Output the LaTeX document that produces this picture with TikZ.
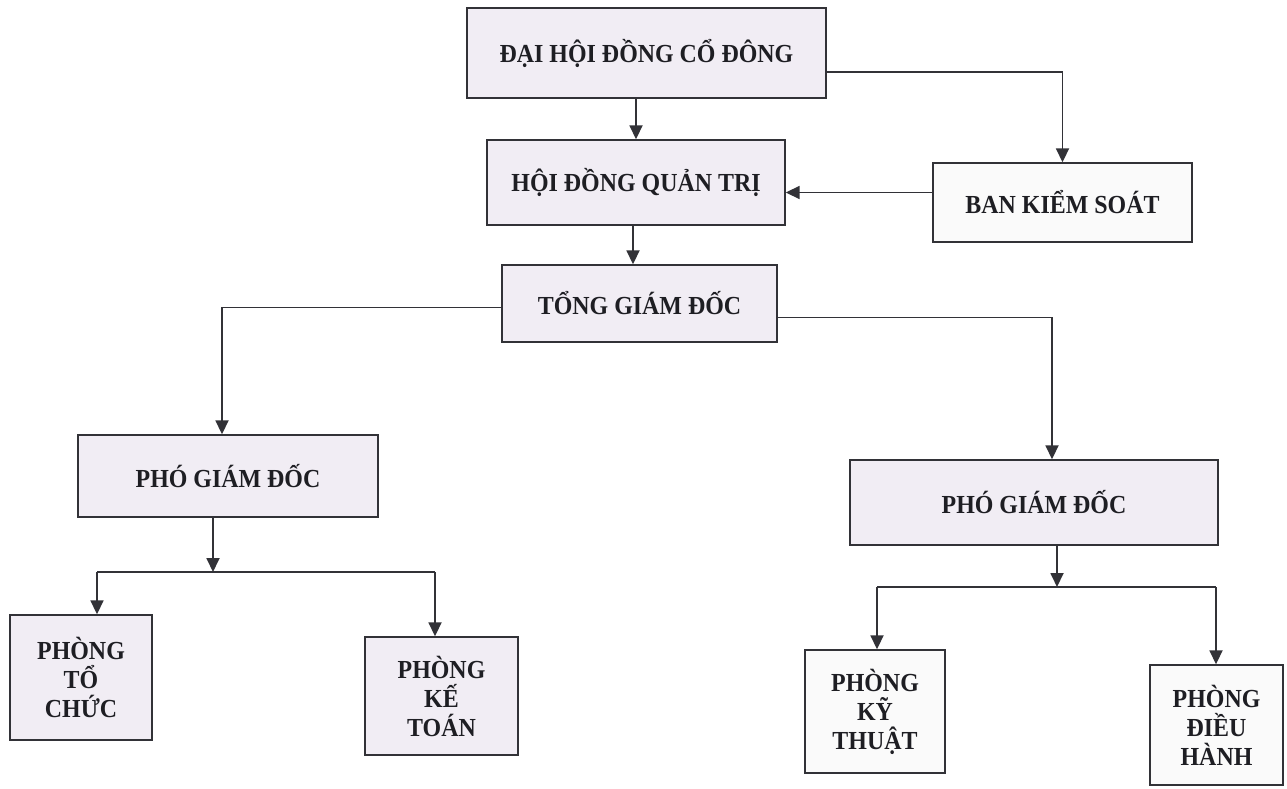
\documentclass[tikz,border=0pt]{standalone}
\usepackage{fontspec}
\setmainfont{Liberation Serif}[FakeStretch=0.92]
\usetikzlibrary{arrows.meta}
\definecolor{linec}{RGB}{50,50,55}
\definecolor{textc}{RGB}{30,30,35}
\definecolor{boxfill}{RGB}{241,237,244}
\definecolor{wfill}{RGB}{250,250,250}
\begin{document}
\begin{tikzpicture}[x=1pt,y=-1pt,
  box/.style={draw=linec, line width=1.4pt, fill=boxfill, text=textc, align=center, inner sep=0pt,
    font=\fontsize{26}{29}\selectfont\bfseries},
  wbox/.style={box, fill=wfill},
  arr/.style={draw=linec, line width=1.8pt, -{Triangle[length=14pt,width=13pt]}},
  ln/.style={draw=linec, line width=1.8pt}]
\useasboundingbox[fill=white] (0,0) rectangle (1287,789);

\node[box, minimum width=359pt, minimum height=90pt] (dh) at (646.5,53) {ĐẠI HỘI ĐỒNG CỔ ĐÔNG};
\node[box, minimum width=298pt, minimum height=85pt] (hd) at (636,182.5) {HỘI ĐỒNG QUẢN TRỊ};
\node[wbox, minimum width=259pt, minimum height=79pt] (bks) at (1062.5,202.5) {BAN KIỂM SOÁT};
\node[box, minimum width=275pt, minimum height=77pt] (tgd) at (639.5,303.5) {TỔNG GIÁM ĐỐC};
\node[box, minimum width=300pt, minimum height=82pt] (pgl) at (228,476) {PHÓ GIÁM ĐỐC};
\node[box, minimum width=368pt, minimum height=85pt] (pgr) at (1034,502.5) {PHÓ GIÁM ĐỐC};
\node[box, minimum width=142pt, minimum height=125pt] (ptc) at (81,677.5) {PHÒNG\\TỔ\\CHỨC};
\node[box, minimum width=153pt, minimum height=118pt] (pkt) at (441.5,696) {PHÒNG\\KẾ\\TOÁN};
\node[wbox, minimum width=140pt, minimum height=123pt] (pky) at (875,711.5) {PHÒNG\\KỸ\\THUẬT};
\node[wbox, minimum width=133pt, minimum height=120pt] (pdh) at (1216.5,725) {PHÒNG\\ĐIỀU\\HÀNH};

% top
\draw[arr] (dh.south -| hd.north) -- (hd.north);
\draw[arr] ([yshift=-19pt]dh.east) -| (bks.north);
\draw[arr] ([yshift=10pt]bks.west) -- ([yshift=10pt]bks.west -| hd.east);
\draw[arr] ([xshift=-3pt]hd.south) -- ([xshift=-3pt]hd.south |- tgd.north);
\draw[arr] ([yshift=-4pt]tgd.west) -| ([xshift=-6pt]pgl.north);
\draw[arr] ([yshift=-14pt]tgd.east) -| ([xshift=18pt]pgr.north);

% left branch
\coordinate (bl) at (97,572);
\coordinate (br) at (435,572);
\coordinate (bm) at (213,572);
\draw[arr] (pgl.south -| bm) -- (bm);
\draw[ln] (bl) -- (br);
\draw[arr] (bl) -- (bl |- ptc.north);
\draw[arr] (br) -- (br |- pkt.north);

% right branch
\coordinate (cl) at (877,587);
\coordinate (cr) at (1216,587);
\coordinate (cm) at (1057,587);
\draw[arr] (pgr.south -| cm) -- (cm);
\draw[ln] (cl) -- (cr);
\draw[arr] (cl) -- (cl |- pky.north);
\draw[arr] (cr) -- (cr |- pdh.north);
\end{tikzpicture}
\end{document}
